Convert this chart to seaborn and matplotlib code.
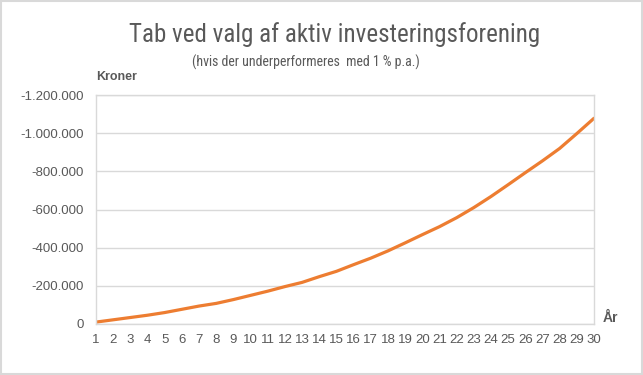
import matplotlib
matplotlib.use("Agg")
import matplotlib.pyplot as plt
import seaborn as sns
import pandas as pd
from matplotlib.ticker import FuncFormatter, FixedLocator
from matplotlib.patches import Rectangle

# Data
aar = list(range(1, 31))
tab = [-10000, -22000, -34000, -46000, -60000, -77000, -94000, -108000, -128000, -150000,
       -172000, -196000, -218000, -248000, -276000, -311000, -345000, -383000, -425000, -468000,
       -510000, -557000, -610000, -668000, -730000, -793000, -855000, -920000, -998000, -1078000]
y_ticks = [0, -200000, -400000, -600000, -800000, -1000000, -1200000]

title = "Tab ved valg af aktiv investeringsforening"
subtitle = "(hvis der underperformeres  med 1 % p.a.)"

df = pd.DataFrame({"aar": aar, "tab": tab})

sns.set_style("white")
plt.rcParams["font.family"] = ["Liberation Sans", "DejaVu Sans"]

grey = "#595959"
light = "#d9d9d9"
narrow = ["Roboto Condensed", "DejaVu Sans"]

fig = plt.figure(figsize=(6.43, 3.75), dpi=100)
ax = fig.add_axes([96 / 643, 51 / 375, 498 / 643, 229 / 375])

sns.lineplot(data=df, x="aar", y="tab", ax=ax, color="#ED7D31", linewidth=2.3)

ax.set_xlim(1, 30)
ax.set_ylim(0, -1200000)
ax.set_yticks(y_ticks)
ax.yaxis.set_major_formatter(FuncFormatter(lambda v, p: f"{int(v):,}".replace(",", ".")))
ax.set_xticks(aar)
ax.xaxis.set_minor_locator(FixedLocator([6, 11, 16, 21, 26]))
ax.tick_params(axis="x", which="major", length=0, pad=7, labelsize=9.5, labelcolor=grey)
ax.tick_params(axis="x", which="minor", length=4, direction="in", color=light)
ax.tick_params(axis="y", length=0, pad=9, labelsize=9.5, labelcolor=grey)
ax.set_xlabel("")
ax.set_ylabel("")
ax.grid(axis="y", color=light, linewidth=1)
for s in ax.spines.values():
    s.set_color(light)
    s.set_linewidth(1)

fig.text(335 / 643, 1 - 35 / 375, title, ha="center", va="center", fontsize=18, color=grey,
         family=narrow, fontstretch="condensed")
fig.text(306 / 643, 1 - 62 / 375, subtitle, ha="center", va="center", fontsize=10, color=grey,
         family=narrow, fontstretch="condensed")
fig.text(96 / 643, 1 - 77 / 375, "Kroner", ha="left", va="center", fontsize=9, color=grey,
         fontweight="bold")
fig.text(603 / 643, 1 - 318 / 375, "År", ha="left", va="center", fontsize=10, color=grey,
         fontweight="bold")

fig.patches.append(Rectangle((0.001, 0.002), 0.997, 0.995, transform=fig.transFigure,
                             fill=False, edgecolor=light, linewidth=1.5))

fig.savefig("out.png", dpi=100)
